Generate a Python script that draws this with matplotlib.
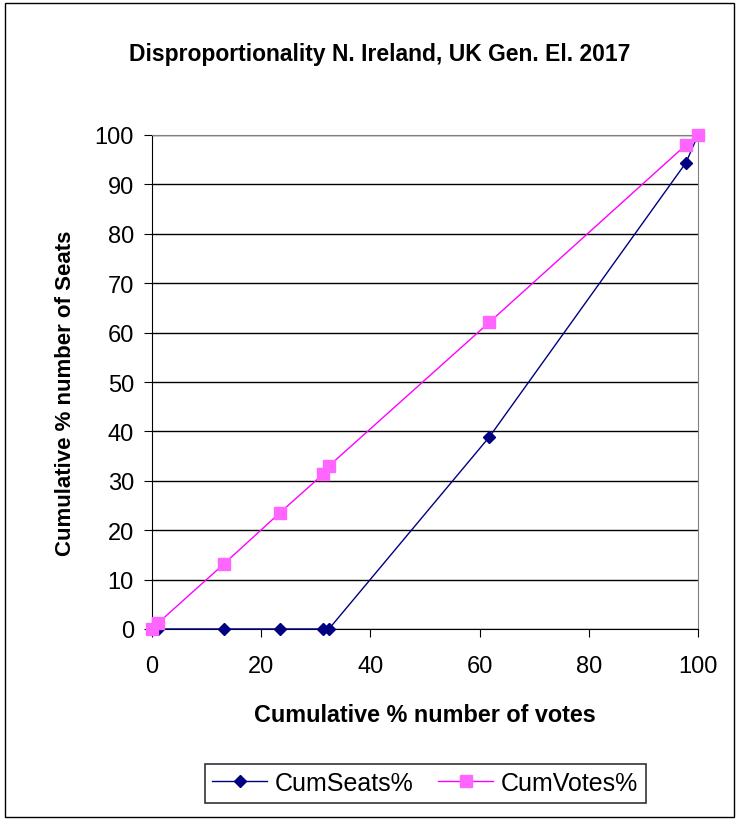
import matplotlib.pyplot as plt
from matplotlib.patches import Rectangle

plt.rcParams['font.family'] = ['Liberation Sans', 'DejaVu Sans']

# cumulative shares, parties ordered by seats-to-votes ratio
cum_votes = [0, 1.1, 13.1, 23.4, 31.4, 32.4, 61.8, 97.8, 100]
cum_seats = [0, 0, 0, 0, 0, 0, 38.9, 94.4, 100]
cum_votes_y = [0, 1.2, 13.1, 23.5, 31.4, 33.0, 62.1, 98.0, 100]

fig = plt.figure(figsize=(7.39, 8.2), dpi=100)
ax = fig.add_axes([152 / 739, 1 - 630 / 820, 546 / 739, 494 / 820])

ax.plot(cum_votes, cum_seats, color='#000080', lw=1, marker='D', ms=6,
        label='CumSeats%', zorder=3, clip_on=False)
ax.plot(cum_votes, cum_votes_y, color='#FF00FF', lw=1, marker='s', ms=8,
        mfc='#FF66FF', mec='#FF66FF', label='CumVotes%', zorder=4, clip_on=False)

ax.set_xlim(0, 100)
ax.set_ylim(0, 100)
ax.set_xticks(range(0, 101, 20))
ax.set_yticks(range(0, 101, 10))
ax.yaxis.grid(True, color='black', lw=1)
ax.set_axisbelow(True)
ax.tick_params(labelsize=17, direction='out', length=6, color='black')
ax.tick_params(axis='x', pad=13)
ax.tick_params(axis='y', pad=7)
for s in ['top', 'right']:
    ax.spines[s].set_color('#808080')
for s in ['left', 'bottom']:
    ax.spines[s].set_color('black')

ax.set_xlabel('Cumulative % number of votes', fontsize=16.8, fontweight='bold')
ax.set_ylabel('Cumulative % number of Seats', fontsize=16, fontweight='bold')
ax.xaxis.set_label_coords(0.5, -(704 - 630) / 494)
ax.yaxis.set_label_coords(-(152 - 76) / 546, (630 - 393) / 494)
fig.text(380 / 739, 1 - 55 / 820,
         'Disproportionality N. Ireland, UK Gen. El. 2017',
         ha='center', va='center', fontsize=16.5, fontweight='bold')

leg = fig.legend(loc='center', bbox_to_anchor=(425 / 739, 1 - 784 / 820), ncol=2,
                 fontsize=18, frameon=True, fancybox=False, edgecolor='black',
                 handlelength=2.2, handletextpad=0.3, columnspacing=1.0,
                 borderpad=0.3)
leg.get_frame().set_linewidth(1.2)

fig.patches.append(Rectangle((5 / 739, 2 / 820), 729 / 739, 814 / 820,
                             transform=fig.transFigure, fill=False,
                             edgecolor='black', lw=1))

fig.savefig('out.png', dpi=100)
